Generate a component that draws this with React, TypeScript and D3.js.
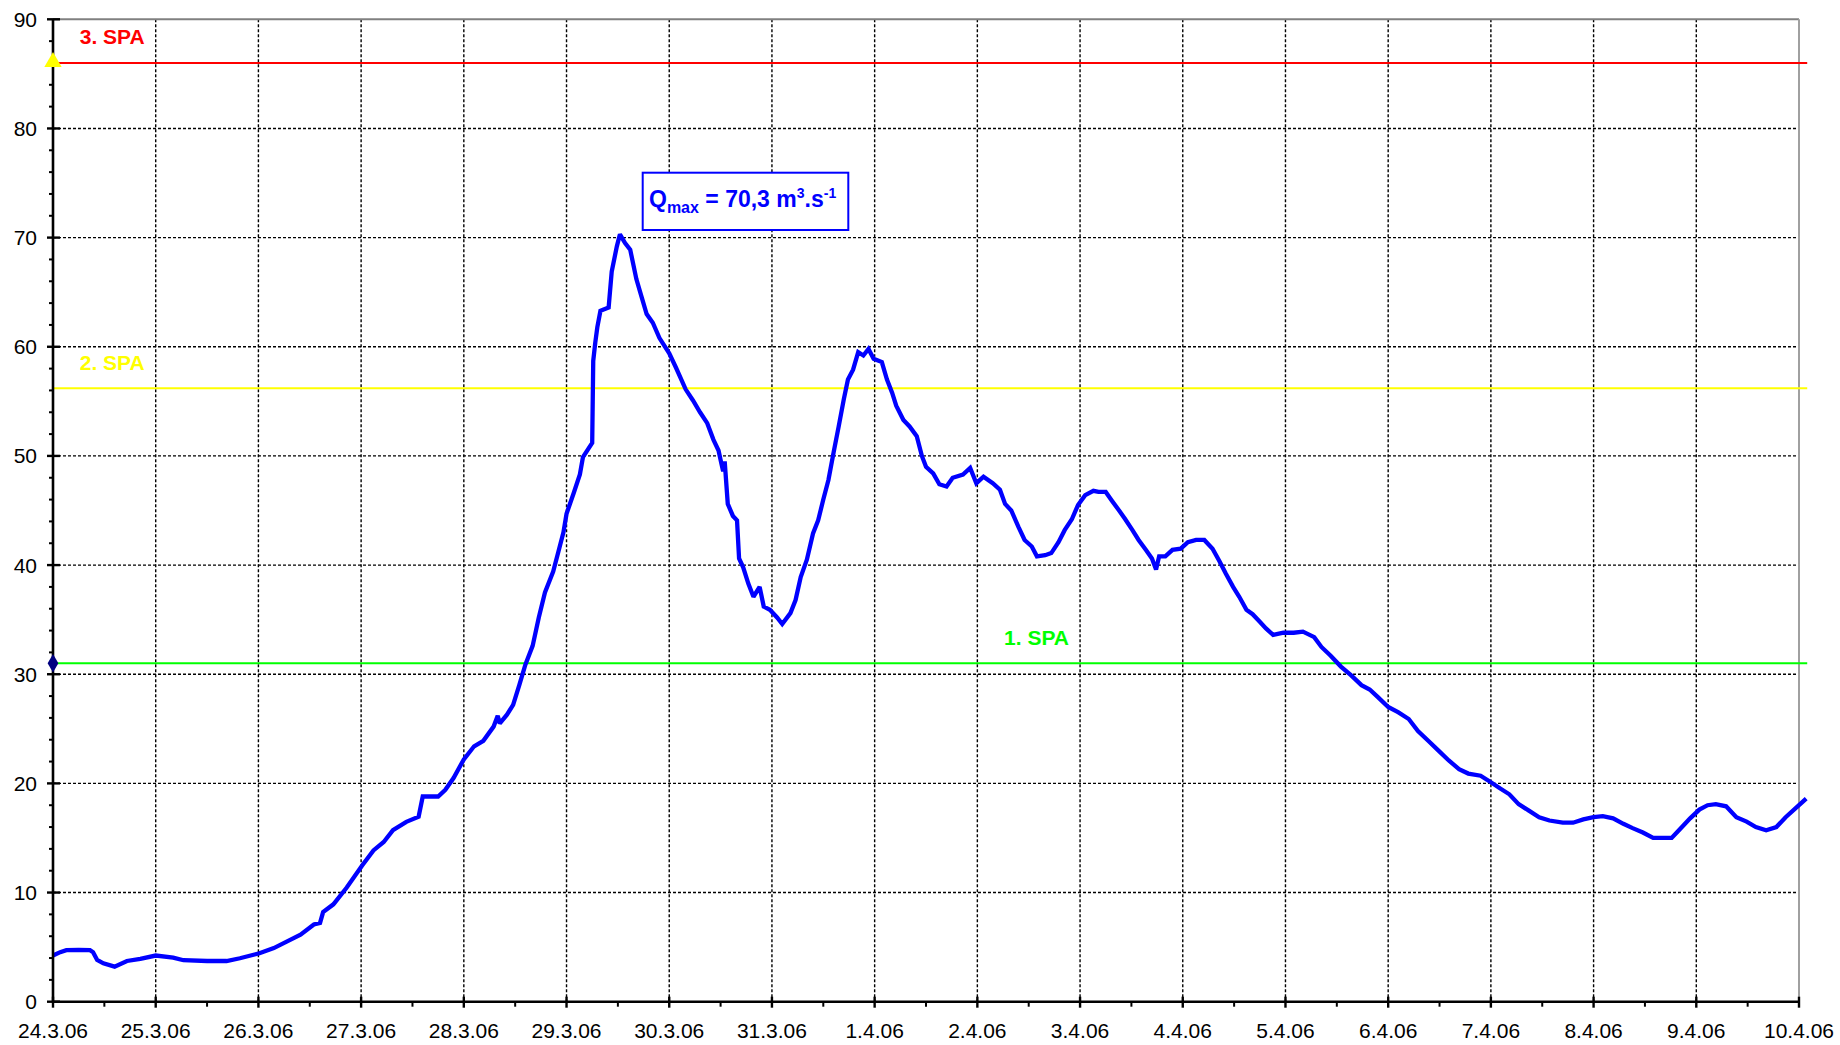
import React from "react";
import * as d3 from "d3";

// ---- data ----
// time offset in days since 24.3.2006 00:00
const dayOffset = [
  0.0, 0.07, 0.13, 0.25, 0.36, 0.39, 0.43, 0.49, 0.6, 0.72, 0.85, 1.0, 1.17, 1.27, 1.5, 1.69, 1.82, 2.01,
  2.15, 2.28, 2.41, 2.54, 2.6, 2.63, 2.73, 2.86, 3.01, 3.12, 3.22, 3.31, 3.44, 3.56, 3.6, 3.75, 3.82, 3.9,
  4.0, 4.1, 4.19, 4.29, 4.33, 4.35, 4.42, 4.48, 4.54, 4.6, 4.67, 4.73, 4.79, 4.87, 4.92, 4.97, 5.0, 5.07,
  5.13, 5.16, 5.25, 5.26, 5.28, 5.3, 5.33, 5.41, 5.44, 5.49, 5.52, 5.57, 5.62, 5.68, 5.73, 5.78, 5.84,
  5.905, 6.0, 6.065, 6.16, 6.23, 6.3, 6.37, 6.43, 6.48, 6.51, 6.525, 6.54, 6.57, 6.62, 6.66, 6.68, 6.72,
  6.77, 6.82, 6.88, 6.92, 6.98, 7.05, 7.1, 7.18, 7.23, 7.28, 7.34, 7.4, 7.45, 7.5, 7.55, 7.6, 7.65, 7.7,
  7.74, 7.79, 7.84, 7.89, 7.94, 7.99, 8.07, 8.12, 8.17, 8.21, 8.28, 8.34, 8.41, 8.46, 8.5, 8.57, 8.63,
  8.7, 8.76, 8.86, 8.93, 8.99, 9.06, 9.15, 9.22, 9.27, 9.33, 9.4, 9.46, 9.53, 9.58, 9.66, 9.72, 9.79,
  9.85, 9.92, 9.98, 10.05, 10.13, 10.18, 10.25, 10.31, 10.38, 10.44, 10.51, 10.57, 10.64, 10.7, 10.74,
  10.77, 10.83, 10.9, 10.98, 11.05, 11.13, 11.21, 11.29, 11.36, 11.42, 11.49, 11.55, 11.62, 11.68, 11.75,
  11.81, 11.88, 11.98, 12.08, 12.17, 12.28, 12.35, 12.44, 12.54, 12.64, 12.74, 12.82, 12.9, 13.0, 13.1,
  13.2, 13.29, 13.39, 13.49, 13.59, 13.69, 13.78, 13.9, 14.0, 14.08, 14.18, 14.27, 14.37, 14.47, 14.57,
  14.7, 14.8, 14.9, 15.0, 15.09, 15.19, 15.29, 15.38, 15.48, 15.58, 15.68, 15.76, 15.84, 15.94, 16.03,
  16.11, 16.19, 16.29, 16.39, 16.49, 16.58, 16.68, 16.78, 16.87, 17.0, 17.07,
];
// discharge Q [m3/s]
const discharge = [
  4.23, 4.54, 4.72, 4.75, 4.72, 4.54, 3.83, 3.52, 3.21, 3.73, 3.92, 4.23, 4.04, 3.8, 3.73, 3.73, 3.98, 4.44,
  4.91, 5.52, 6.14, 7.07, 7.22, 8.21, 8.92, 10.46, 12.47, 13.86, 14.63, 15.71, 16.48, 16.94, 18.8, 18.8,
  19.41, 20.49, 22.2, 23.4, 23.9, 25.2, 26.2, 25.5, 26.3, 27.2, 29.0, 30.9, 32.6, 35.2, 37.5, 39.4, 41.2,
  43.0, 44.7, 46.6, 48.3, 49.9, 51.2, 58.7, 60.4, 61.8, 63.3, 63.6, 66.9, 69.2, 70.3, 69.5, 68.9, 66.2,
  64.6, 63.0, 62.2, 60.8, 59.4, 58.1, 56.1, 55.1, 54.0, 53.0, 51.5, 50.5, 49.2, 48.6, 49.5, 45.6, 44.5,
  44.1, 40.6, 39.8, 38.3, 37.1, 38.0, 36.2, 35.9, 35.2, 34.6, 35.6, 36.8, 38.9, 40.5, 42.9, 44.1, 46.0,
  47.8, 50.3, 52.7, 55.2, 57.0, 57.9, 59.5, 59.2, 59.8, 58.9, 58.6, 57.0, 55.8, 54.6, 53.3, 52.7, 51.8,
  50.0, 49.0, 48.4, 47.4, 47.2, 48.0, 48.3, 48.9, 47.5, 48.1, 47.5, 46.9, 45.6, 45.0, 43.5, 42.3, 41.7,
  40.8, 40.9, 41.1, 42.1, 43.2, 44.2, 45.5, 46.4, 46.8, 46.7, 46.7, 45.9, 45.0, 44.2, 43.2, 42.3, 41.4,
  40.6, 39.6, 40.8, 40.8, 41.4, 41.5, 42.1, 42.3, 42.3, 41.5, 40.3, 39.2, 38.0, 37.1, 35.9, 35.5, 34.8,
  34.2, 33.6, 33.8, 33.8, 33.9, 33.4, 32.5, 31.7, 30.7, 29.9, 29.0, 28.6, 27.9, 27.0, 26.5, 25.9, 24.8,
  23.9, 23.0, 22.1, 21.3, 20.9, 20.7, 20.1, 19.6, 19.0, 18.1, 17.5, 16.9, 16.6, 16.4, 16.4, 16.7, 16.9,
  17.0, 16.8, 16.3, 15.9, 15.5, 15.0, 15.0, 15.0, 15.8, 16.8, 17.6, 18.0, 18.1, 17.9, 16.9, 16.5, 16.0,
  15.7, 16.0, 16.9, 18.0, 18.6,
];

const yTickValues = [0, 10, 20, 30, 40, 50, 60, 70, 80, 90];
const spaLevels = [31, 56.2, 86];
const spaLabels = ["1. SPA", "2. SPA", "3. SPA"];
const qMaxValue = "70,3";

const startDate = Date.UTC(2006, 2, 24);
const endDate = Date.UTC(2006, 3, 10);
const DAY = 86400000;

export default function App() {
  const W = 1840, H = 1045;
  const left = 53, right = 1799, top = 19.3, bottom = 1001.7;

  const x = d3.scaleUtc().domain([new Date(startDate), new Date(endDate)]).range([left, right]);
  const y = d3.scaleLinear().domain([0, 90]).range([bottom, top]);

  const data = dayOffset.map((d, i) => ({ t: new Date(startDate + d * DAY), v: discharge[i] }));
  const line = d3.line<any>().x((d) => x(d.t)).y((d) => y(d.v));

  const dayTicks = d3.utcDay.range(new Date(startDate), new Date(endDate + 1));
  const halfTicks = d3.utcHour.every(12)!.range(new Date(startDate), new Date(endDate)).filter((d) => d.getUTCHours() === 12);
  const fmt = d3.utcFormat("%-d.%-m.%y");
  const minorY = d3.range(0, 91, 2).filter((v) => v % 10 !== 0);

  const lineEnd = x(new Date(startDate + 17.08 * DAY));
  const spaColors = ["#00FF00", "#FFFF00", "#FF0000"];
  const labelX = [x(new Date(startDate + 9.26 * DAY)), x(new Date(startDate + 0.26 * DAY)), x(new Date(startDate + 0.26 * DAY))];

  const font = "Arial, 'Liberation Sans', Helvetica, sans-serif";

  return (
    <svg width={W} height={H} style={{ position: "absolute", left: 0, top: 0, background: "#fff" }} fontFamily={font}>
      <rect x={0} y={0} width={W} height={H} fill="#fff" />
      {/* grid */}
      {yTickValues.filter((v) => v > 0 && v < 90).map((v) => (
        <line key={"gy" + v} x1={left} x2={right} y1={y(v)} y2={y(v)} stroke="#000" strokeWidth={1.4} strokeDasharray="3,2" />
      ))}
      {dayTicks.slice(1, -1).map((d, i) => (
        <line key={"gx" + i} x1={x(d)} x2={x(d)} y1={top} y2={bottom} stroke="#000" strokeWidth={1.4} strokeDasharray="3,2" />
      ))}
      {/* frame top / right */}
      <line x1={left} x2={right} y1={top} y2={top} stroke="#808080" strokeWidth={2} />
      <line x1={right} x2={right} y1={top} y2={bottom} stroke="#A0A0A0" strokeWidth={2} />

      {/* SPA levels */}
      {spaLevels.map((v, i) => (
        <line key={"spa" + i} x1={left} x2={lineEnd} y1={y(v)} y2={y(v)} stroke={spaColors[i]} strokeWidth={2} />
      ))}
      {spaLevels.map((v, i) => (
        <text key={"spal" + i} x={labelX[i]} y={y(v) - 18.7} fontSize={21} fontWeight="bold" fill={spaColors[i]}>
          {spaLabels[i]}
        </text>
      ))}

      {/* discharge curve */}
      <path d={line(data) || ""} fill="none" stroke="#0000FF" strokeWidth={4.3} strokeLinejoin="miter" strokeMiterlimit={2} />

      {/* axes */}
      <line x1={left} x2={left} y1={top} y2={bottom + 1} stroke="#000" strokeWidth={2.6} />
      <line x1={left - 1} x2={right} y1={bottom} y2={bottom} stroke="#000" strokeWidth={2.6} />
      {yTickValues.map((v) => (
        <g key={"yt" + v}>
          <line x1={left - 6} x2={left + 7} y1={y(v)} y2={y(v)} stroke="#000" strokeWidth={2.4} />
          <text x={left - 16} y={y(v)} dy="0.36em" textAnchor="end" fontSize={21} fill="#000">{v}</text>
        </g>
      ))}
      {minorY.map((v) => (
        <line key={"ym" + v} x1={left - 4} x2={left} y1={y(v)} y2={y(v)} stroke="#000" strokeWidth={2} />
      ))}
      {dayTicks.map((d, i) => (
        <g key={"xt" + i}>
          <line x1={x(d)} x2={x(d)} y1={bottom - 5} y2={bottom + 6} stroke="#000" strokeWidth={2.4} />
          <text x={x(d)} y={bottom + 36} textAnchor="middle" fontSize={21} fill="#000">{fmt(d)}</text>
        </g>
      ))}
      {halfTicks.map((d, i) => (
        <line key={"xm" + i} x1={x(d)} x2={x(d)} y1={bottom} y2={bottom + 5} stroke="#000" strokeWidth={2} />
      ))}

      {/* markers */}
      <path d={d3.symbol(d3.symbolTriangle, 130)() || ""} transform={`translate(${left},${y(86) - 1})`} fill="#FFFF00" />
      <path d={d3.symbol(d3.symbolDiamond, 100)() || ""} transform={`translate(${left},${y(31)})`} fill="#000080" />

      {/* Qmax annotation */}
      <rect x={642.7} y={172.7} width={205.6} height={57.3} fill="#fff" stroke="#0000FF" strokeWidth={2} />
      <text x={649} y={207} fontSize={23} fontWeight="bold" fill="#0000FF">
        Q<tspan fontSize={16} dy={6}>max</tspan>
        <tspan fontSize={23} dy={-6}>{` = ${qMaxValue} m`}</tspan>
        <tspan fontSize={14} dy={-9}>3</tspan>
        <tspan fontSize={23} dy={9}>.s</tspan>
        <tspan fontSize={14} dy={-9}>-1</tspan>
      </text>
    </svg>
  );
}
